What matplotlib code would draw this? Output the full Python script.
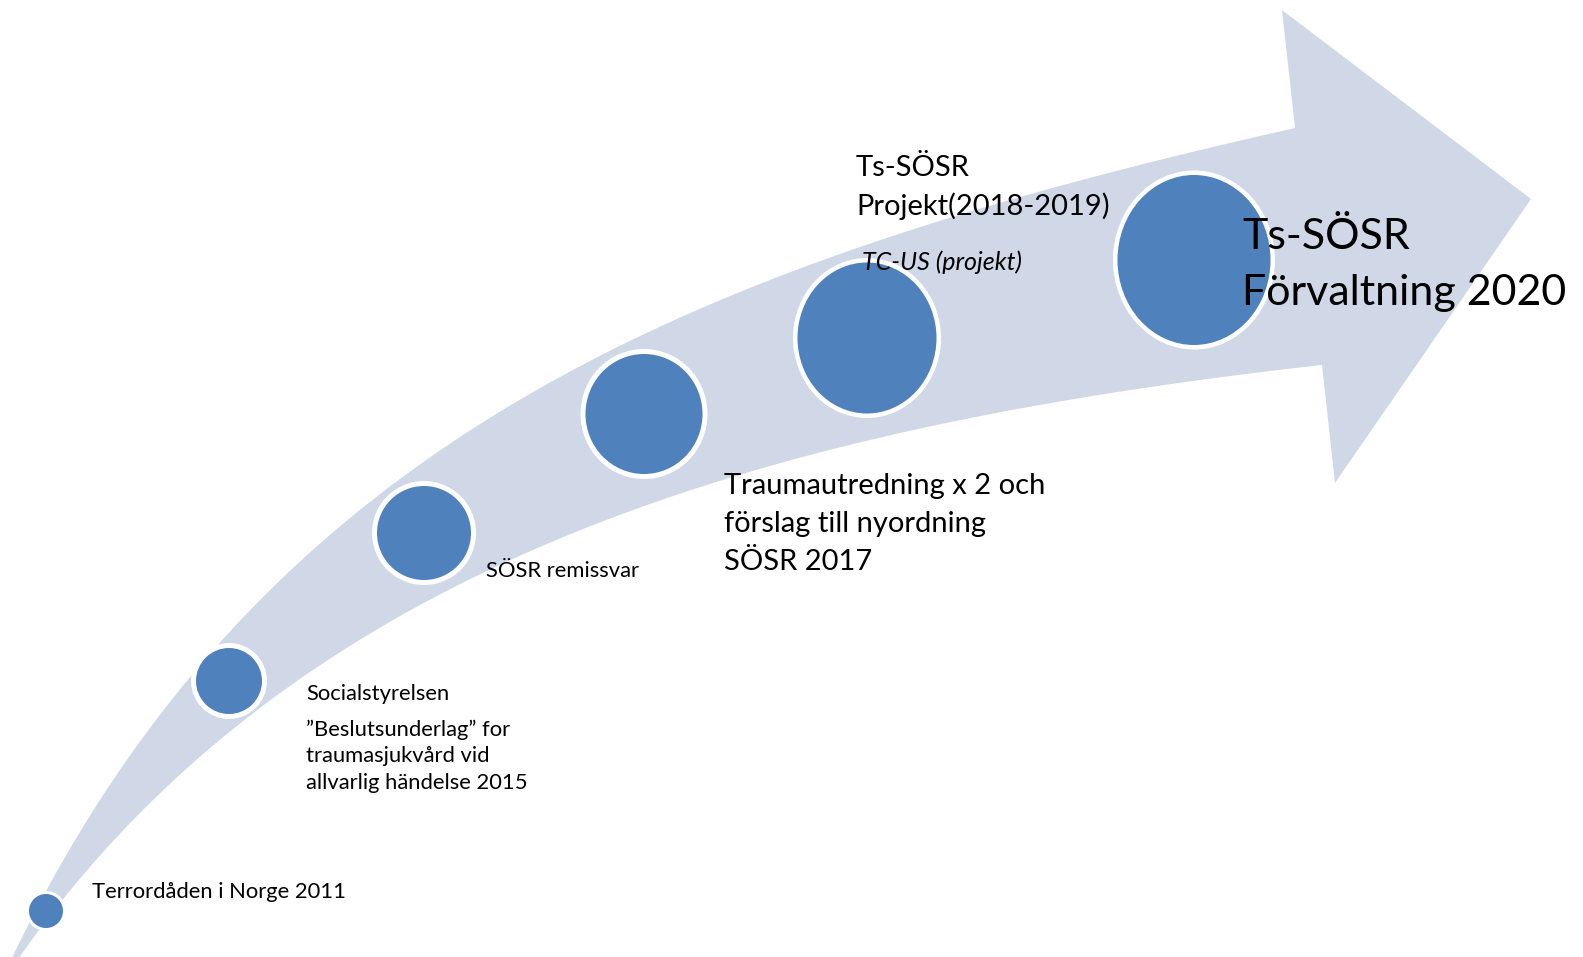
import numpy as np
import matplotlib
matplotlib.use("Agg")
import matplotlib.pyplot as plt
from matplotlib.patches import Polygon, Ellipse

# ---- content ----
steps = ["2011", "2015", "remiss", "2017", "2018-2019", "2020"]
label_terror = ["Terrordåden i Norge 2011"]
label_sos = ["Socialstyrelsen"]
label_beslut = ["”Beslutsunderlag” for", "traumasjukvård vid", "allvarlig händelse 2015"]
label_remiss = ["SÖSR remissvar"]
label_trauma = ["Traumautredning x 2 och", "förslag till nyordning", "SÖSR 2017"]
label_proj = ["Ts-SÖSR", "Projekt(2018-2019)"]
label_tcus = ["TC-US (projekt)"]
label_big = ["Ts-SÖSR", "Förvaltning 2020"]

# ---- layout (pixel space) ----
W, H = 1583, 957
circ_x = [46, 229, 424, 644, 867, 1194]
circ_y = [911, 681, 533, 414, 338, 260]
circ_w = [34, 66, 94, 117, 139, 153]
circ_h = [34, 66, 94, 120, 151, 170]
ring = [6, 10, 10, 10, 9, 9]

ARROW = "#D0D8E8"
DOT = "#4F81BD"
FONT = "Lato"

fig = plt.figure(figsize=(W / 100, H / 100), dpi=100)
ax = fig.add_axes([0, 0, 1, 1])
ax.set_xlim(0, W)
ax.set_ylim(H, 0)
ax.axis("off")


def bez(p0, p1, p2, p3, n=200):
    t = np.linspace(0, 1, n)[:, None]
    p0, p1, p2, p3 = map(np.array, (p0, p1, p2, p3))
    return ((1 - t) ** 3) * p0 + 3 * ((1 - t) ** 2) * t * p1 + 3 * (1 - t) * t ** 2 * p2 + t ** 3 * p3


upper = bez((10, 962), (263, 430), (710, 260), (1295, 128))
lower = bez((16, 962), (296, 560), (767, 427), (1322, 365))
head = np.array([(1282, 10), (1531, 199), (1335, 483)])
outline = np.vstack([upper, head, lower[::-1]])
ax.add_patch(Polygon(outline, closed=True, facecolor=ARROW, edgecolor="none", zorder=1))

for x, y, w, h, r in zip(circ_x, circ_y, circ_w, circ_h, ring):
    ax.add_patch(Ellipse((x, y), w + r, h + r, facecolor="white", edgecolor="none", zorder=2))
    ax.add_patch(Ellipse((x, y), w, h, facecolor=DOT, edgecolor="none", zorder=3))


def lines(x, y0, dy, texts, size, **kw):
    for i, t in enumerate(texts):
        ax.text(x, y0 + i * dy, t, fontsize=size, family=FONT, va="baseline",
                ha="left", zorder=4, **kw)


small = 15.8
lines(92, 898, 0, label_terror, small)
lines(306, 700, 0, label_sos, small)
lines(306, 736, 26.5, label_beslut, small)
lines(486, 577, 0, label_remiss, small)

mid = 21
lines(724, 494, 38, label_trauma, mid)
lines(856, 176, 38.5, label_proj, mid)
lines(862, 270, 0, label_tcus, 18, style="italic")
lines(1242, 249, 56, label_big, 31)

fig.savefig("out.png", dpi=100)
